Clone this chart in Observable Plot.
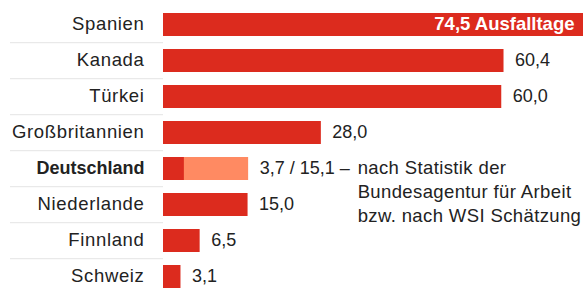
<!DOCTYPE html>
<html>
<head>
<meta charset="utf-8">
<script src="https://cdn.jsdelivr.net/npm/d3@7"></script>
<script src="https://cdn.jsdelivr.net/npm/@observablehq/plot@0.6"></script>
<style>
  html, body { margin: 0; padding: 0; background: #fff; }
  #chart svg { display: block; overflow: hidden; }
</style>
</head>
<body>
<div id="chart"></div>
<script>
// Data
const countries = ["Spanien", "Kanada", "Türkei", "Großbritannien", "Deutschland", "Niederlande", "Finnland", "Schweiz"];
const days = [74.5, 60.4, 60.0, 28.0, 3.7, 15.0, 6.5, 3.1];
const valueLabels = ["74,5 Ausfalltage", "60,4", "60,0", "28,0", "3,7 / 15,1 –", "15,0", "6,5", "3,1"];
const estimateCountry = "Deutschland";
const estimateValue = 15.1; // WSI Schätzung
const noteText = "nach Statistik der\nBundesagentur für Arbeit\nbzw. nach WSI Schätzung";

const RED = "#dc2b1e";
const SALMON = "#ff8a62";
const TEXT = "#222222";

const rows = countries.map((c, i) => ({
  country: c,
  days: days[i],
  label: valueLabels[i],
  labelX: c === estimateCountry ? Math.max(days[i], estimateValue) : days[i]
}));
const estimateRows = [{country: estimateCountry, days: estimateValue}];

const W = 584, H = 288;
const yRange = [4.6, 297.2];
const step = (yRange[1] - yRange[0]) / countries.length;

const plot = Plot.plot({
  width: W,
  height: H,
  marginLeft: 163,
  marginRight: 1,
  marginTop: 0,
  marginBottom: 0,
  style: {fontFamily: "'Liberation Sans', Arial, sans-serif", background: "#fff"},
  x: {domain: [0, 74.5], axis: null},
  y: {type: "band", domain: countries, range: yRange, paddingInner: 0.35, paddingOuter: 0.175, axis: null},
  marks: [
    Plot.ruleY(countries.slice(1), {y: d => d, dy: -step / 2, stroke: "#e4e4e4", strokeWidth: 1}),
    Plot.barX(estimateRows, {y: "country", x: "days", fill: SALMON}),
    Plot.barX(rows, {y: "country", x: "days", fill: RED}),
    // [text 0] country labels
    Plot.text(rows.filter(d => d.country !== estimateCountry), {
      y: "country", text: "country", frameAnchor: "left", textAnchor: "end", dx: -19, dy: -1,
      fontSize: 18.5, fill: TEXT
    }),
    // [text 1] bold label
    Plot.text(rows.filter(d => d.country === estimateCountry), {
      y: "country", text: "country", frameAnchor: "left", textAnchor: "end", dx: -19, dy: -1,
      fontSize: 18, fontWeight: "bold", fill: TEXT
    }),
    // [text 2] value labels outside
    Plot.text(rows.filter(d => d.country !== countries[0]), {
      y: "country", x: "labelX", text: "label", textAnchor: "start", dx: 11, dy: -0.5,
      fontSize: 18, fill: TEXT
    }),
    // [text 3] value label inside (first bar)
    Plot.text(rows.filter(d => d.country === countries[0]), {
      y: "country", x: "labelX", text: "label", textAnchor: "end", dx: -9, dy: -1,
      fontSize: 18.5, fontWeight: "bold", fill: "#fff"
    }),
    // [text 4] note next to Deutschland
    Plot.text([{country: estimateCountry, x: estimateValue, note: noteText}], {
      y: "country", x: "x", text: "note", textAnchor: "start", lineAnchor: "top",
      dx: 109, dy: -12, lineHeight: 1.3, fontSize: 18.5, fill: TEXT
    })
  ]
});

// separator lines span the label column only
d3.select(plot).selectAll('g[aria-label="rule"] line').attr("x1", 10).attr("x2", 163);
// letter spacing for the regular-weight label texts
const textGroups = d3.select(plot).selectAll('g[aria-label="text"]').nodes();
if (textGroups[0]) d3.select(textGroups[0]).style("letter-spacing", "0.65px");
if (textGroups[4]) d3.select(textGroups[4]).style("letter-spacing", "0.38px");

document.getElementById("chart").appendChild(plot);
</script>
</body>
</html>
